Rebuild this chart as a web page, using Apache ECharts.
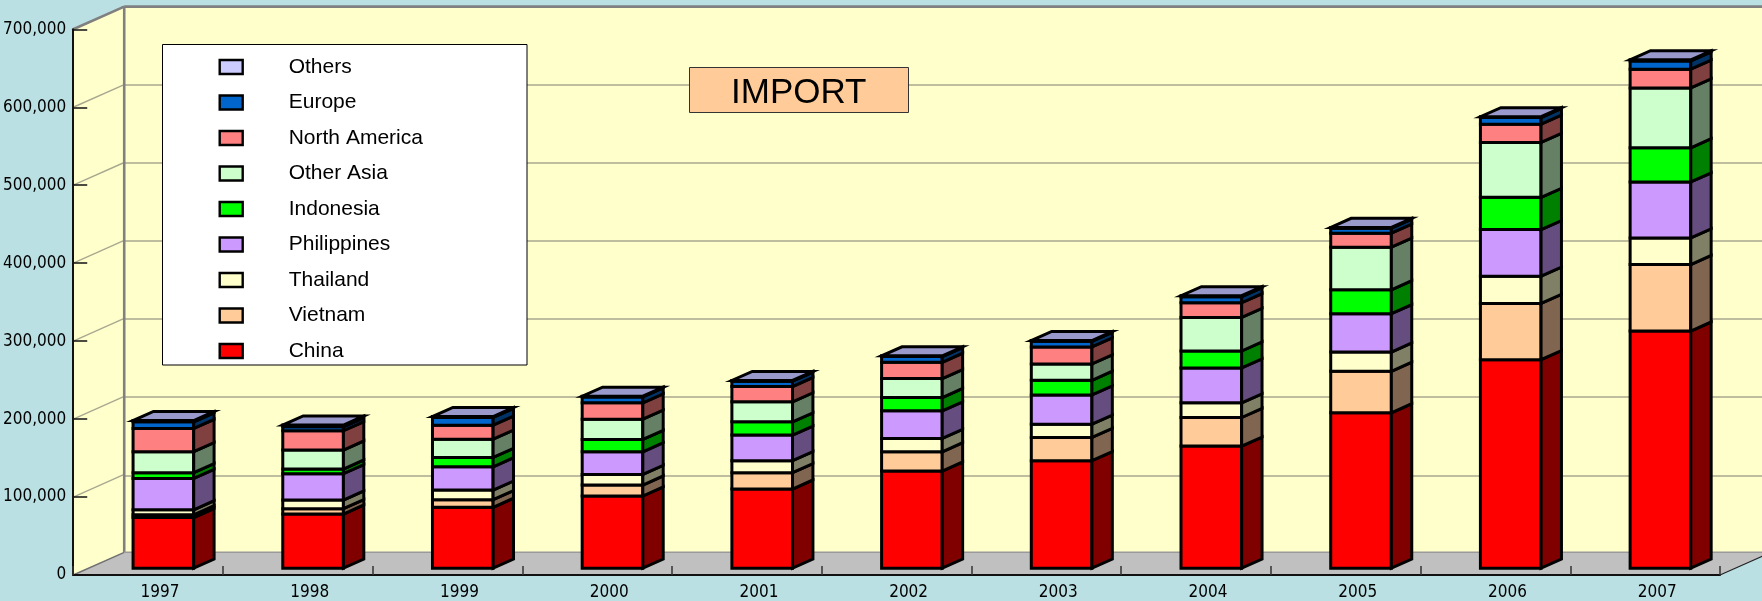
<!DOCTYPE html>
<html>
<head>
<meta charset="utf-8">
<title>IMPORT</title>
<script src="https://cdn.jsdelivr.net/npm/echarts@6/dist/echarts.min.js"></script>
<style>
  html, body { margin: 0; padding: 0; background: #bbe0e3; }
  #chart { width: 1762px; height: 601px; }
</style>
</head>
<body>
<div id="chart"></div>
<script>
// ---- data -------------------------------------------------------------
const years = ['1997', '1998', '1999', '2000', '2001', '2002', '2003', '2004', '2005', '2006', '2007'];

const china        = [65000, 69500, 78100, 92600, 101500, 124600, 137900, 156600, 199300, 267500, 304200];
const vietnam      = [3500, 6900, 9800, 14100, 21000, 24700, 29800, 36700, 53300, 72100, 85300];
const thailand     = [6400, 11000, 12300, 13600, 15400, 17100, 17000, 18800, 24700, 35000, 34200];
const philippines  = [40300, 33800, 29900, 29000, 32800, 35400, 37600, 44800, 49100, 59700, 71700];
const indonesia    = [7300, 6000, 12000, 15800, 17000, 17100, 18700, 21700, 30700, 41400, 43900];
const otherAsia    = [27000, 24400, 23400, 26000, 25700, 24300, 21000, 43100, 54700, 70400, 76800];
const northAmerica = [29700, 24700, 18000, 21000, 19600, 20900, 21800, 18800, 17900, 23500, 24000];
const europe       = [8500, 5100, 9800, 7600, 6800, 7300, 7200, 7700, 6400, 8500, 10500];
const others       = [1700, 2200, 1200, 900, 1000, 1000, 1000, 1300, 1000, 1000, 1500];

const seriesNames = ['China', 'Vietnam', 'Thailand', 'Philippines', 'Indonesia',
                     'Other Asia', 'North America', 'Europe', 'Others'];
const yTickValues = [0, 100000, 200000, 300000, 400000, 500000, 600000, 700000];

// ---- styling ----------------------------------------------------------
const FRONT = ['#ff0000', '#ffcc99', '#ffffcc', '#cc99ff', '#00ff00', '#ccffcc', '#ff8080', '#0066cc', '#ccccff'];
const SIDE  = ['#800000', '#806650', '#808066', '#664d80', '#008000', '#668066', '#804040', '#003366', '#666680'];
const TOP_FACE = '#9999cc';
const WALL = '#ffffcc';
const FLOOR = '#c0c0c0';
const GRID_LINE = '#a8a890';
const EDGE = '#808080';
const AXIS_FONT = "'Liberation Sans Narrow', 'Arial Narrow', 'DejaVu Sans Condensed', sans-serif";
const TEXT_FONT = "'Liberation Sans', Arial, sans-serif";

// 3D depth of the plot box (pixels the back plane is shifted by)
const DEPTH = [51, -22.7];
// bar sits between these fractions of the depth, and takes this share of a category band
const BAR = { widthRatio: 0.405, front: 0.3, back: 0.7 };

const values = [china, vietnam, thailand, philippines, indonesia, otherAsia, northAmerica, europe, others];
const bases = values.map((_, s) =>
  years.map((__, i) => values.slice(0, s).reduce((acc, arr) => acc + arr[i], 0)));

function drawSegment(params, api, s) {
  const i = api.value(0);
  const lo = api.value(1);
  const hi = api.value(2);
  const band = api.size([1, 0])[0];
  const p0 = api.coord([i, lo]);
  const p1 = api.coord([i, hi]);
  const w = band * BAR.widthRatio;
  const fx = DEPTH[0] * BAR.front, fy = DEPTH[1] * BAR.front;
  const sx = DEPTH[0] * (BAR.back - BAR.front), sy = DEPTH[1] * (BAR.back - BAR.front);
  const L = p0[0] + fx - w / 2, R = L + w;
  const yb = p0[1] + fy, yt = p1[1] + fy;
  const line = { stroke: '#000', lineWidth: 3, lineJoin: 'miter' };
  const children = [
    { type: 'polygon', shape: { points: [[L, yb], [R, yb], [R, yt], [L, yt]] },
      style: Object.assign({ fill: FRONT[s] }, line) },
    { type: 'polygon', shape: { points: [[R, yb], [R + sx, yb + sy], [R + sx, yt + sy], [R, yt]] },
      style: Object.assign({ fill: SIDE[s] }, line) }
  ];
  if (s === values.length - 1) {
    children.push({ type: 'polygon',
      shape: { points: [[L, yt], [R, yt], [R + sx, yt + sy], [L + sx, yt + sy]] },
      style: Object.assign({ fill: TOP_FACE }, line) });
  }
  return { type: 'group', children };
}

// left wall, floor, wall edges and the slanted grid lines of the left wall
function drawWalls(params, api) {
  const cs = params.coordSys;
  const x = cs.x, y = cs.y, w = cs.width, h = cs.height;
  const dx = DEPTH[0], dy = DEPTH[1];
  const children = [
    { type: 'polygon', z2: 0, shape: { points: [[x, y], [x + dx, y + dy], [x + dx, y + h + dy], [x, y + h]] },
      style: { fill: WALL } },
    { type: 'polygon', z2: 0, shape: { points: [[x, y + h], [x + w, y + h], [x + w + dx, y + h + dy], [x + dx, y + h + dy]] },
      style: { fill: FLOOR } }
  ];
  yTickValues.forEach(v => {
    const py = api.coord([0, v])[1];
    children.push({ type: 'line', z2: 5,
      shape: { x1: x, y1: py, x2: x + dx, y2: py + dy },
      style: { stroke: v === 0 ? '#707070' : GRID_LINE, lineWidth: 1.4 } });
  });
  children.push(
    { type: 'line', z2: 6, shape: { x1: x + dx, y1: y + dy, x2: x + dx, y2: y + h + dy }, style: { stroke: EDGE, lineWidth: 2.6 } },
    { type: 'line', z2: 6, shape: { x1: x + dx, y1: y + dy, x2: x + w + dx + 20, y2: y + dy }, style: { stroke: EDGE, lineWidth: 2.6 } },
    { type: 'line', z2: 6, shape: { x1: x, y1: y, x2: x + dx, y2: y + dy }, style: { stroke: EDGE, lineWidth: 2.6 } },
    { type: 'line', z2: 6, shape: { x1: x + dx, y1: y + h + dy, x2: x + w + dx + 20, y2: y + h + dy }, style: { stroke: '#9a9a9a', lineWidth: 1.5 } },
    { type: 'line', z2: 6, shape: { x1: x + w, y1: y + h, x2: x + w + dx, y2: y + h + dy }, style: { stroke: '#222', lineWidth: 1.2 } }
  );
  return { type: 'group', children };
}

const FRONT_GRID = { left: 70, top: 29.3, right: 42, bottom: 24.8 };
const BACK_GRID = {
  left: FRONT_GRID.left + DEPTH[0], top: FRONT_GRID.top + DEPTH[1],
  right: FRONT_GRID.right - DEPTH[0], bottom: FRONT_GRID.bottom - DEPTH[1]
};

const chart = echarts.init(document.getElementById('chart'), null, { renderer: 'canvas' });

const option = {
  animation: false,
  backgroundColor: '#bbe0e3',
  title: {
    text: 'IMPORT',
    left: 689, top: 67,
    backgroundColor: '#ffcc99',
    borderColor: '#333', borderWidth: 1,
    padding: [7, 42, 0, 42],
    textStyle: { fontFamily: TEXT_FONT, fontSize: 35, fontWeight: 'normal', color: '#000', lineHeight: 39 },
    z: 6
  },
  graphic: [{
    type: 'rect', z: 3,
    shape: { x: 162.5, y: 44.5, width: 364.5, height: 320.5 },
    style: { fill: '#ffffff', stroke: '#000', lineWidth: 1 }
  }],
  legend: {
    data: seriesNames.slice().reverse(),
    orient: 'vertical',
    left: 218.5, top: 55,
    padding: 0,
    itemGap: 11.5,
    itemWidth: 23, itemHeight: 14,
    icon: 'rect',
    selectedMode: false,
    itemStyle: { borderColor: '#000', borderWidth: 2.4 },
    textStyle: { fontFamily: TEXT_FONT, fontSize: 21, color: '#000', lineHeight: 24, padding: [0, 0, 0, 41] },
    z: 4
  },
  grid: [
    Object.assign({ show: false }, FRONT_GRID),
    Object.assign({ show: true, backgroundColor: WALL, borderWidth: 0 }, BACK_GRID)
  ],
  xAxis: [
    {
      type: 'category', gridIndex: 0, data: years, z: 3,
      axisLine: { lineStyle: { color: '#111', width: 2 } },
      axisTick: { show: true, inside: true, length: 9, interval: 0, lineStyle: { color: '#333', width: 1.5 } },
      axisLabel: { fontFamily: AXIS_FONT, fontSize: 17, color: '#000', margin: 9, padding: [0, 0, 0, 24], interval: 0 },
      splitLine: { show: false }
    },
    { type: 'category', gridIndex: 1, data: years, show: false }
  ],
  yAxis: [
    {
      type: 'value', gridIndex: 0, min: 0, max: 700000, interval: 100000, z: 3,
      axisLine: { show: true, lineStyle: { color: '#111', width: 2 } },
      axisTick: { show: true, inside: true, length: 14, lineStyle: { color: '#111', width: 1.5 } },
      axisLabel: {
        fontFamily: AXIS_FONT, fontSize: 17, color: '#000', margin: 7,
        formatter: v => v.toLocaleString('en-US')
      },
      splitLine: { show: false }
    },
    {
      type: 'value', gridIndex: 1, min: 0, max: 700000, interval: 100000,
      axisLine: { show: false }, axisTick: { show: false }, axisLabel: { show: false },
      splitLine: { show: true, lineStyle: { color: GRID_LINE, width: 1.6 } }
    }
  ],
  series: [
    {
      type: 'custom', name: 'walls', xAxisIndex: 0, yAxisIndex: 0, z: 1, silent: true, clip: false,
      data: [[0, 0]], encode: { x: 0, y: 1 },
      renderItem: drawWalls
    }
  ].concat(seriesNames.map((name, s) => ({
    type: 'custom', name, xAxisIndex: 0, yAxisIndex: 0, z: 2, clip: false,
    itemStyle: { color: FRONT[s], borderColor: '#000', borderWidth: 2 },
    encode: { x: 0, y: [1, 2] },
    data: years.map((_, i) => [i, bases[s][i], bases[s][i] + values[s][i]]),
    renderItem: (params, api) => drawSegment(params, api, s)
  })))
};

chart.setOption(option);
</script>
</body>
</html>
